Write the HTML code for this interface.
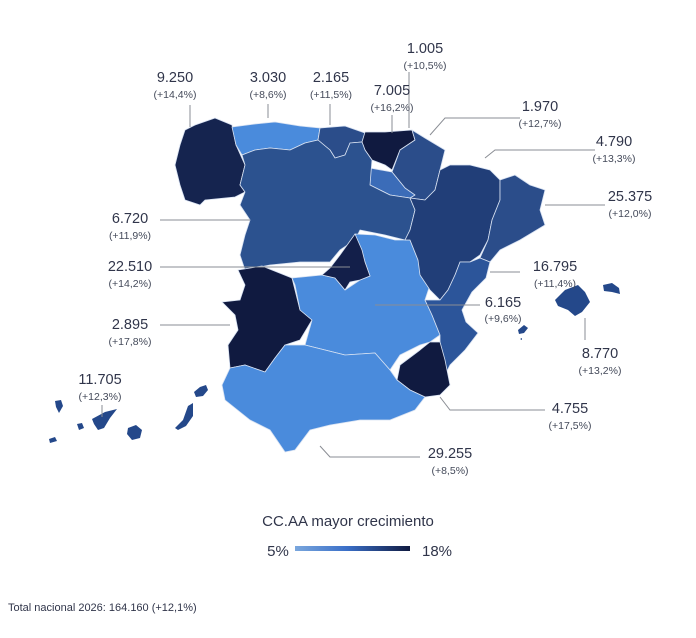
<!DOCTYPE html>
<html><head><meta charset="utf-8"><style>
body{margin:0;background:#fff;}
svg{display:block;font-family:"Liberation Sans",sans-serif;}
.n{font-size:14.5px;fill:#30354a;text-anchor:middle}
.p{font-size:10.5px;fill:#444a5a;text-anchor:middle}
.l{stroke:#8a8d94;stroke-width:1;fill:none}
.r{stroke:#d8e2f2;stroke-width:0.8;stroke-linejoin:round}
</style></head><body>
<svg width="696" height="638" viewBox="0 0 696 638">
<defs><linearGradient id="g" x1="0" x2="1"><stop offset="0" stop-color="#7aa7dd"/><stop offset="0.45" stop-color="#3a6fc8"/><stop offset="1" stop-color="#101a40"/></linearGradient></defs>
<polygon class="r" fill="#15244f" points="195,125 215,118 232,125 236,145 245,165 240,185 245,192 235,197 205,200 200,205 185,200 180,185 175,165 180,145 185,130"/>
<polygon class="r" fill="#4a8bdc" points="232,127 255,124 275,122 300,126 320,128 318,140 305,143 290,150 270,148 255,150 242,155 236,145"/>
<polygon class="r" fill="#2b4d8a" points="320,128 345,126 365,133 362,142 350,143 345,155 335,158 330,150 318,140"/>
<polygon class="r" fill="#101a40" points="365,132 385,132 412,130 415,140 400,150 392,170 385,165 372,160 365,150 362,142"/>
<polygon class="r" fill="#2b4d8a" points="412,130 425,138 445,150 440,170 435,190 425,200 410,198 405,188 392,172 400,150 415,140"/>
<polygon class="r" fill="#3b6cb8" points="370,168 392,172 405,188 415,195 410,198 390,195 380,190 370,185"/>
<polygon class="r" fill="#2c528f" points="242,155 255,150 270,148 290,150 305,143 318,140 330,150 335,158 345,155 350,143 362,142 365,150 372,160 370,185 390,195 410,198 415,210 410,230 405,240 385,235 360,230 355,240 340,250 330,262 300,262 270,265 245,270 240,255 245,235 250,220 240,205 245,192 240,185 245,165"/>
<polygon class="r" fill="#101a40" points="238,270 262,266 292,278 300,310 312,320 300,340 285,345 275,358 265,372 245,365 230,368 228,345 238,330 235,315 222,302 240,300 245,285"/>
<polygon class="r" fill="#4a8bdc" points="292,278 322,275 335,278 345,290 360,280 370,276 355,234 375,235 395,240 410,240 418,260 430,285 425,300 432,315 440,335 430,342 420,345 400,355 390,370 375,353 345,355 325,350 305,345 312,320 300,310 295,285"/>
<polygon class="r" fill="#131f4a" points="355,234 362,250 365,262 370,276 360,280 350,282 345,290 335,278 322,275 330,268 340,255"/>
<polygon class="r" fill="#213e78" points="440,170 450,165 470,165 490,170 500,180 500,200 492,220 488,240 480,255 470,262 460,262 455,275 448,290 440,300 430,290 420,275 418,260 410,240 405,240 410,230 415,210 410,198 425,200 435,190"/>
<polygon class="r" fill="#2b4d8a" points="500,180 515,175 530,185 545,190 540,210 545,225 520,240 500,250 490,262 480,258 488,240 492,220 500,200"/>
<polygon class="r" fill="#2c559a" points="480,258 490,262 486,278 472,292 462,310 466,322 478,333 465,350 450,365 445,375 440,342 440,335 432,315 425,300 440,300 448,290 455,275 460,262 470,262"/>
<polygon class="r" fill="#101a40" points="440,342 445,360 450,385 440,395 425,397 410,390 397,380 400,365 420,350 430,342"/>
<polygon class="r" fill="#4a8bdc" points="230,368 245,365 265,372 275,358 285,345 305,345 325,350 345,355 375,353 390,370 397,380 410,390 425,397 415,410 390,420 360,420 330,425 310,430 295,450 285,452 270,430 250,420 225,400 222,385"/>
<g fill="#24488a">
<polygon points="555,300 565,290 578,285 585,292 590,302 582,312 575,316 568,310 558,306"/>
<polygon points="603,285 612,283 619,288 620,294 612,292 604,291"/>
<polygon points="518,330 524,325 528,328 524,333 519,334"/>
<polygon points="520,339 522,338 522,340"/>
</g>
<g fill="#24488a">
<polygon points="92,419 105,412 117,409 110,418 104,428 98,430 94,424"/>
<polygon points="128,428 136,425 142,430 140,438 132,440 127,434"/>
<polygon points="55,401 61,400 63,406 59,413 56,407"/>
<polygon points="77,424 82,423 84,428 79,430"/>
<polygon points="49,439 55,437 57,441 50,443"/>
<polygon points="175,428 183,420 188,406 193,403 193,416 186,426 178,430"/>
<polygon points="194,392 200,387 206,385 208,390 203,396 196,397"/>
</g>
<path class="l" d="M190,105V127 M268,104V118 M330,104V125 M392,115V133 M409,72V128 M520,118H445L430,135 M595,150H495L485,158 M605,205H545 M160,220H250 M160,267H350 M160,325H230 M102,405V417 M520,272H490 M480,305H375 M585,318V340 M545,410H450L440,397 M420,457H330L320,446"/>
<text class="n" x="175" y="82">9.250</text><text class="p" x="175" y="98">(+14,4%)</text>
<text class="n" x="268" y="82">3.030</text><text class="p" x="268" y="98">(+8,6%)</text>
<text class="n" x="331" y="82">2.165</text><text class="p" x="331" y="98">(+11,5%)</text>
<text class="n" x="392" y="95">7.005</text><text class="p" x="392" y="111">(+16,2%)</text>
<text class="n" x="425" y="53">1.005</text><text class="p" x="425" y="69">(+10,5%)</text>
<text class="n" x="540" y="111">1.970</text><text class="p" x="540" y="127">(+12,7%)</text>
<text class="n" x="614" y="146">4.790</text><text class="p" x="614" y="162">(+13,3%)</text>
<text class="n" x="630" y="201">25.375</text><text class="p" x="630" y="217">(+12,0%)</text>
<text class="n" x="130" y="223">6.720</text><text class="p" x="130" y="239">(+11,9%)</text>
<text class="n" x="130" y="271">22.510</text><text class="p" x="130" y="287">(+14,2%)</text>
<text class="n" x="130" y="329">2.895</text><text class="p" x="130" y="345">(+17,8%)</text>
<text class="n" x="100" y="384">11.705</text><text class="p" x="100" y="400">(+12,3%)</text>
<text class="n" x="555" y="271">16.795</text><text class="p" x="555" y="287">(+11,4%)</text>
<text class="n" x="503" y="307">6.165</text><text class="p" x="503" y="322">(+9,6%)</text>
<text class="n" x="600" y="358">8.770</text><text class="p" x="600" y="374">(+13,2%)</text>
<text class="n" x="570" y="413">4.755</text><text class="p" x="570" y="429">(+17,5%)</text>
<text class="n" x="450" y="458">29.255</text><text class="p" x="450" y="474">(+8,5%)</text>
<text x="348" y="526" style="font-size:15px;fill:#30354a;text-anchor:middle">CC.AA mayor crecimiento</text>
<text x="278" y="556" style="font-size:15px;fill:#30354a;text-anchor:middle">5%</text>
<rect x="295" y="546" width="115" height="5" fill="url(#g)"/>
<text x="437" y="556" style="font-size:15px;fill:#30354a;text-anchor:middle">18%</text>
<text x="8" y="611" style="font-size:11px;fill:#30354a">Total nacional 2026: 164.160 (+12,1%)</text>
</svg>
</body></html>
